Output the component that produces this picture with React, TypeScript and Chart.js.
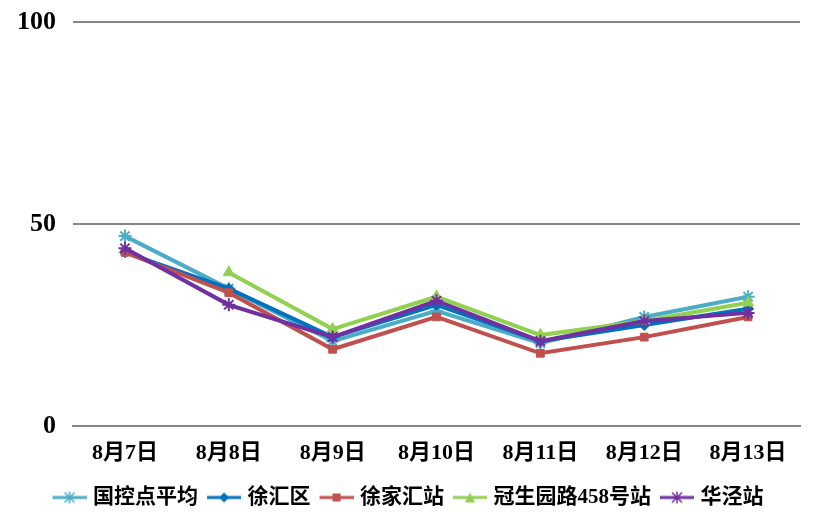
import { Chart, registerables, ChartConfiguration } from "chart.js";
import { useEffect, useRef } from "react";

Chart.register(...registerables);

const dates = ["8月7日", "8月8日", "8月9日", "8月10日", "8月11日", "8月12日", "8月13日"];
const avgValues = [47, 34, 21, 28.5, 20.5, 27, 32];
const xuhuiValues = [43, 34, 22, 30, 21, 25, 29];
const xujiahuiValues = [43, 33, 19, 27, 18, 22, 27];
const guanshengyuanValues = [null, 38, 24, 32, 22.5, 26, 30.5];
const huajingValues = [44, 30, 22, 31, 21, 26, 28];
const yTicks = [0, 50, 100];

const FONT = "'Liberation Serif', 'Noto Sans CJK SC', serif";

// line + marker icon for the legend (line sits on the right 34px of the canvas)
const legendIcon = (color: string, style: string) => {
  const c = document.createElement("canvas");
  c.width = 38;
  c.height = 14;
  const ctx = c.getContext("2d")!;
  ctx.strokeStyle = color;
  ctx.fillStyle = color;
  ctx.lineWidth = 3;
  ctx.beginPath();
  ctx.moveTo(4, 7);
  ctx.lineTo(38, 7);
  ctx.stroke();
  const cx = 21;
  ctx.lineWidth = 1.5;
  if (style === "rect") ctx.fillRect(cx - 4, 3, 8, 8);
  else if (style === "rectRot") {
    ctx.beginPath();
    ctx.moveTo(cx, 2);
    ctx.lineTo(cx + 5, 7);
    ctx.lineTo(cx, 12);
    ctx.lineTo(cx - 5, 7);
    ctx.fill();
  } else if (style === "triangle") {
    ctx.beginPath();
    ctx.moveTo(cx, 2);
    ctx.lineTo(cx + 5, 12);
    ctx.lineTo(cx - 5, 12);
    ctx.fill();
  } else {
    ctx.beginPath();
    ctx.moveTo(cx - 5, 2);
    ctx.lineTo(cx + 5, 12);
    ctx.moveTo(cx + 5, 2);
    ctx.lineTo(cx - 5, 12);
    ctx.moveTo(cx, 1);
    ctx.lineTo(cx, 13);
    ctx.stroke();
  }
  return c;
};

const App = () => {
  const chartRef = useRef<HTMLCanvasElement>(null);
  const chartInstance = useRef<Chart | null>(null);

  useEffect(() => {
    if (!chartRef.current) return;

    const series = [
      { label: "国控点平均", data: avgValues, color: "#4BACC6", style: "star", order: 5 },
      { label: "徐汇区", data: xuhuiValues, color: "#0070C0", style: "rectRot", order: 4 },
      { label: "徐家汇站", data: xujiahuiValues, color: "#C0504D", style: "rect", order: 3 },
      { label: "冠生园路458号站", data: guanshengyuanValues, color: "#92D050", style: "triangle", order: 2 },
      { label: "华泾站", data: huajingValues, color: "#7030A0", style: "star", order: 1 },
    ];
    const icons = series.map((s) => legendIcon(s.color, s.style));

    const config: ChartConfiguration<"line"> = {
      type: "line",
      data: {
        labels: dates,
        datasets: series.map((s) => ({
          label: s.label,
          data: s.data as number[],
          borderColor: s.color,
          backgroundColor: s.color,
          borderWidth: 4,
          pointStyle: s.style as any,
          pointRadius: s.style === "star" ? 6.5 : s.style === "triangle" ? 6.5 : 5.5,
          pointBorderWidth: s.style === "star" ? 2 : 1,
          tension: 0,
          order: s.order,
        })),
      },
      options: {
        animation: false,
        responsive: true,
        maintainAspectRatio: false,
        layout: { padding: { top: 22, right: 20, bottom: 12, left: 16 } },
        plugins: {
          legend: {
            position: "bottom",
            labels: {
              usePointStyle: true,
              pointStyleWidth: 30,
              padding: 9,
              color: "#000",
              font: { family: FONT, size: 21, weight: "bold" },
              sort: (a, b) => (a.datasetIndex ?? 0) - (b.datasetIndex ?? 0),
              generateLabels: (chart) =>
                Chart.defaults.plugins.legend.labels
                  .generateLabels(chart)
                  .map((item) => ({ ...item, pointStyle: icons[item.datasetIndex ?? 0] })),
            },
          },
          tooltip: { enabled: false },
        },
        scales: {
          x: {
            offset: true,
            grid: { display: false, drawTicks: false },
            border: { color: "#868686", width: 2 },
            ticks: {
              padding: 14,
              color: "#000",
              maxRotation: 0,
              font: { family: FONT, size: 22, weight: "bold" },
            },
            afterFit: (scale) => {
              scale.height = 52;
              scale.paddingLeft = 0;
              scale.paddingRight = 0;
            },
          },
          y: {
            min: 0,
            max: 100,
            afterBuildTicks: (scale) => {
              scale.ticks = yTicks.map((v) => ({ value: v }));
            },
            grid: { color: "#868686", lineWidth: 2, drawTicks: false },
            border: { display: false },
            ticks: {
              padding: 17,
              color: "#000",
              font: { family: FONT, size: 26, weight: "bold" },
            },
            afterFit: (scale) => {
              scale.width = 57;
              scale.paddingTop = 0;
              scale.paddingBottom = 0;
            },
          },
        },
      },
    };

    chartInstance.current = new Chart(chartRef.current, config);

    return () => {
      if (chartInstance.current) {
        chartInstance.current.destroy();
      }
    };
  }, []);

  return (
    <div style={{ position: "absolute", left: 0, top: 0, width: 820, height: 530, background: "#fff" }}>
      <canvas ref={chartRef} />
    </div>
  );
};

export default App;
